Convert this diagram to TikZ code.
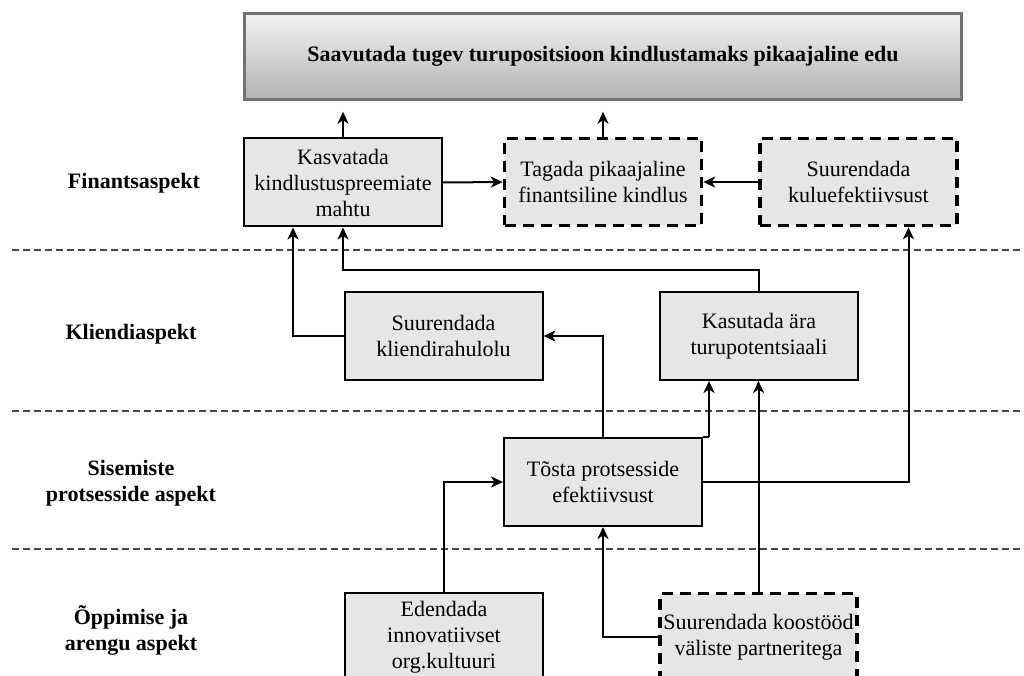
\documentclass[tikz,border=0pt]{standalone}
\usepackage{fontspec}
\setmainfont{Liberation Serif}
\usetikzlibrary{arrows.meta}
\definecolor{boxgray}{RGB}{230,230,230}
\definecolor{goaltop}{RGB}{243,243,243}
\definecolor{goalbottom}{RGB}{178,178,178}
\definecolor{goalline}{RGB}{115,115,115}
\definecolor{sepline}{RGB}{70,70,70}

\begin{document}
\begin{tikzpicture}[x=1pt,y=-1pt,
  txt/.style={font=\fontsize{22}{26}\selectfont},
  box/.style={txt, draw=black, line width=2pt, fill=boxgray,
    minimum width=198pt, minimum height=88pt, align=center, inner sep=1pt},
  dbox/.style={box, line width=3.5pt, dash pattern=on 11pt off 7pt,
    minimum width=197pt, minimum height=87pt},
  goalbox/.style={txt, font=\fontsize{22}{26}\selectfont\bfseries,
    draw=goalline, line width=2.5pt, top color=goaltop, bottom color=goalbottom,
    minimum width=717pt, minimum height=86pt},
  aspect/.style={txt, font=\fontsize{22}{26}\selectfont\bfseries, align=center},
  sep/.style={draw=sepline, line width=1.2pt, dash pattern=on 7pt off 4pt},
  arr/.style={draw=black, line width=2pt, -{Stealth[length=12pt,width=11pt,inset=3.5pt]}},
  link/.style={draw=black, line width=2pt}
]
\useasboundingbox (0,0) rectangle (1024,676);
\clip (0,0) rectangle (1024,676);

% perspective separators
\draw[sep] (12,250) -- (1024,250);
\draw[sep] (12,411) -- (1024,411);
\draw[sep] (12,549) -- (1024,549);

% perspective names
\node[aspect] (lfin) at (134,183) {Finantsaspekt};
\node[aspect] (lkli) at (131,334) {Kliendiaspekt};
\node[aspect] (lsis) at (131,483) {Sisemiste\\protsesside aspekt};
\node[aspect] (lopp) at (131,630) {Õppimise ja\\arengu aspekt};

% goal
\node[goalbox] (goal) at (603,56.5) {Saavutada tugev turupositsioon kindlustamaks pikaajaline edu};

% financial
\node[box] (kasv) at (343,182.5) {Kasvatada\\kindlustuspreemiate\\mahtu};
\node[dbox] (tagada) at (603,182) {Tagada pikaajaline\\finantsiline kindlus};
\node[dbox] (kulu) at (858.5,182) {Suurendada\\kuluefektiivsust};

% customer
\node[box] (rahul) at (443.5,336) {Suurendada\\kliendirahulolu};
\node[box] (kasut) at (759,336) {Kasutada ära\\turupotentsiaali};

% internal processes
\node[box] (tosta) at (603,482) {Tõsta protsesside\\efektiivsust};

% learning and growth
\node[box] (edend) at (444,637) {Edendada\\innovatiivset\\org.kultuuri};
\node[dbox] (koost) at (758.5,637) {Suurendada koostööd\\väliste partneritega};

% links towards the goal
\draw[arr, shorten >=11pt] (kasv.north) -- (kasv.north |- goal.south);
\draw[arr, shorten >=11pt] (tagada.north) -- (tagada.north |- goal.south);

% financial links
\draw[arr] (kasv.east) -- (tagada.west);
\draw[arr] (kulu.west) -- (tagada.east);

% customer links
\draw[arr] (rahul.west) -| ([xshift=-50pt]kasv.south);
\draw[arr] (kasut.north) -- ++(0,-21) -| (kasv.south);

% internal process links
\draw[arr] (tosta.north) |- (rahul.east);
\draw[link] (tosta.north east) -- ++(6,0) coordinate (tne);
\draw[arr] (tne) -- (tne |- kasut.south);
\draw[arr] (tosta.east) -| ([xshift=50pt]kulu.south);

% learning and growth links
\draw[arr] (koost.north) -- (koost.north |- kasut.south);
\draw[arr] (koost.west) -| (tosta.south);
\draw[arr] (edend.north) |- (tosta.west);
\end{tikzpicture}
\end{document}
